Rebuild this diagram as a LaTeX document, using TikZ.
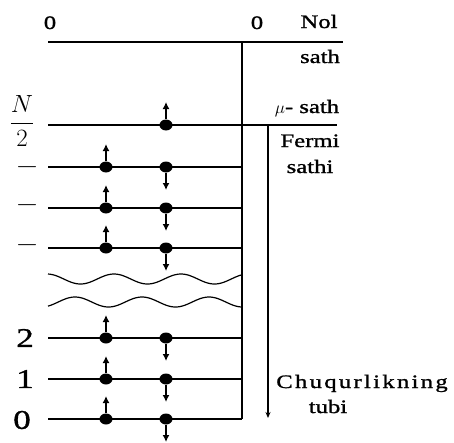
\documentclass[tikz,border=0pt]{standalone}
\usepackage{amsmath}
\usepackage{fontspec}
\setmainfont{Liberation Serif}[FakeStretch=1.3,FakeBold=1.2]
\usepackage{tikz}
\usetikzlibrary{arrows.meta,shapes.geometric}

\begin{document}
\begin{tikzpicture}[
			x=1pt,y=-1pt,
			level/.style={line width=1.7pt},
			wave/.style={line width=1.2pt},
			elec/.style={ellipse,fill,inner sep=0pt,minimum width=13pt,minimum height=11pt},
			spin/.style={-{Latex[length=7pt,width=7pt]},line width=1.5pt},
			lbl/.style={font=\fontsize{19}{21}\selectfont,inner sep=0pt,anchor=base},
			num/.style={font=\fontsize{27}{29}\selectfont,inner sep=0pt},
			arrow/.style={-{Stealth[length=6pt,width=5pt]},line width=1.5pt}
			]
			\useasboundingbox (0,0) rectangle (454,442);
			% end points of the lines
			\coordinate (zero-l) at (48,42);
			\coordinate (zero-r) at (343,42);
			\coordinate (mu-l) at (48,125);
			\coordinate (mu-r) at (337,125);
			\coordinate (wall-t) at (242,42);
			\coordinate (wall-b) at (242,419);
			\coordinate (depth-t) at (268,125);
			\coordinate (depth-b) at (268,418);
			\draw[level] (zero-l)--(zero-r);
			\draw[level] (mu-l)--(mu-r);
			\draw[level] (wall-t)--(wall-b);
			\draw[level] (48,167)--(242,167);
			\draw[level] (48,208)--(242,208);
			\draw[level] (48,248)--(242,248);
			\draw[level] (48,338)--(242,338);
			\draw[level] (48,379)--(242,379);
			\draw[level] (48,419)--(242,419);
			\draw[arrow] (depth-t)--(depth-b);
			\draw[wave] plot[domain=48:242,samples=120,smooth] (\x,{279-5*cos((\x-47)/67*360)});
			\draw[wave] plot[domain=48:242,samples=120,smooth] (\x,{302-5*cos((\x-75)/67*360)});
			% electrons
			\node[elec] (rmu) at (166,125) {};
			\node[elec] (l1) at (106,167) {};
			\node[elec] (r1) at (166,167) {};
			\node[elec] (l2) at (106,208) {};
			\node[elec] (r2) at (166,208) {};
			\node[elec] (l3) at (106,248) {};
			\node[elec] (r3) at (166,248) {};
			\node[elec] (l4) at (106,338) {};
			\node[elec] (r4) at (166,338) {};
			\node[elec] (l5) at (106,379) {};
			\node[elec] (r5) at (166,379) {};
			\node[elec] (l6) at (106,419) {};
			\node[elec] (r6) at (166,419) {};
			\draw[spin] (rmu)--++(0,-23);
			\draw[spin] (l1)--++(0,-23);
			\draw[spin] (r1)--++(0,23);
			\draw[spin] (l2)--++(0,-23);
			\draw[spin] (r2)--++(0,23);
			\draw[spin] (l3)--++(0,-23);
			\draw[spin] (r3)--++(0,23);
			\draw[spin] (l4)--++(0,-23);
			\draw[spin] (r4)--++(0,23);
			\draw[spin] (l5)--++(0,-23);
			\draw[spin] (r5)--++(0,23);
			\draw[spin] (l6)--++(0,-23);
			\draw[spin] (r6)--++(0,23);
			% labels
			\node[lbl] (zero-a) at (50,29) {0};
			\node[lbl] (zero-b) at (257,29) {0};
			\node[lbl] (nol) at (319,28) {Nol};
			\node[lbl] (sath) at (320,63) {sath};
			\node[lbl] (musath) at (307,113) {$\mu$- sath};
			\node[lbl] (fermi) at (310,147) {Fermi};
			\node[lbl] (sathi) at (310,173) {sathi};
			\node[lbl] (chuq) at (362,388) {\addfontfeature{LetterSpace=12}Chuqurlikning};
			\node[lbl] (tubi) at (328,413) {tubi};
			\node[font=\fontsize{28}{30}\selectfont,inner sep=0pt] (half) at (22,121) {$\dfrac{N}{2}$};
			\node[font=\fontsize{13}{15}\selectfont,inner sep=0pt] (d1) at (27,168) {\textemdash};
			\node[font=\fontsize{13}{15}\selectfont,inner sep=0pt] (d2) at (27,206) {\textemdash};
			\node[font=\fontsize{13}{15}\selectfont,inner sep=0pt] (d3) at (27,246) {\textemdash};
			\node[num] (n2) at (25,338) {2};
			\node[num] (n1) at (25,379) {1};
			\node[num] (n0) at (22,420) {0};
		\end{tikzpicture}
\end{document}
